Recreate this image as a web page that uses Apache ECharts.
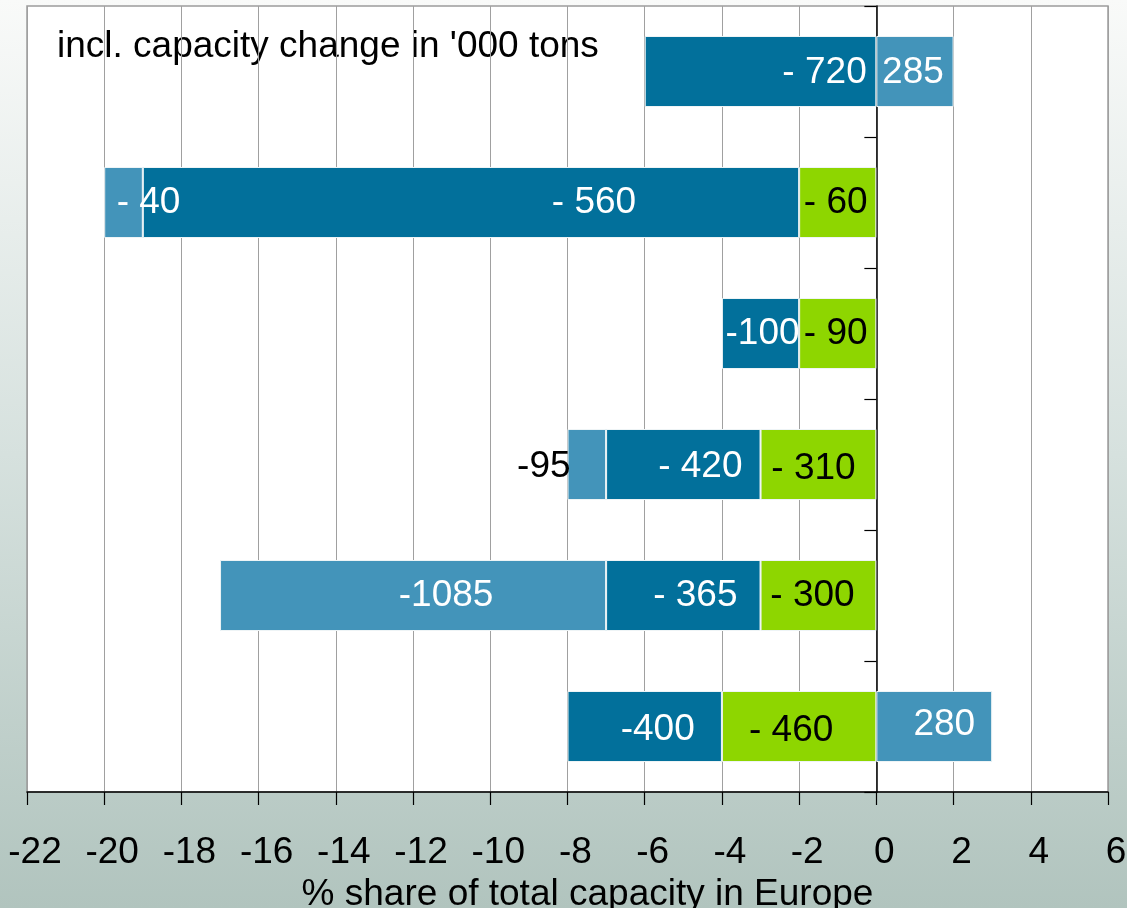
<!DOCTYPE html>
<html>
<head>
<meta charset="utf-8">
<script src="https://cdn.jsdelivr.net/npm/echarts@6/dist/echarts.min.js"></script>
<style>
  html, body { margin: 0; padding: 0; }
  #chart { width: 1127px; height: 908px; }
</style>
</head>
<body>
<div id="chart"></div>
<script>
// Rows, top to bottom
const rows = ['r1', 'r2', 'r3', 'r4', 'r5', 'r6'];

// % share of total capacity in Europe, per segment
const greenShare = ['-', -2, -2, -3, -3, -4];
const darkShare  = [-6, -17, -2, -4, -4, -4];
const lightShare = [2, -1, '-', -1, -10, 3];

// capacity change in '000 tons, written on each segment
const greenLabels = ['', '- 60', '- 90', '- 310', '- 300', '- 460'];
const darkLabels  = ['- 720', '- 560', '-100', '- 420', '- 365', '-400'];
const lightLabels = ['285', '- 40', '', '-95', '-1085', '280'];

// x axis ticks
const xMin = -22, xMax = 6, xStep = 2;

const titleText = "incl. capacity change in '000 tons";
const xName = '% share of total capacity in Europe';

// label nudges inside each segment [dx, dy]
const greenNudge = [[0, 0], [-2, 0], [-2, 0], [-5, 4], [-6, 0], [-8, 4]];
const darkNudge  = [[64, 1], [123, 0], [2, 0], [17, 2], [12, 0], [13, 3]];
const lightNudge = [[-2, 1], [25, 0], [0, 0], [-43, 2], [33, 0], [10, -2]];

const FONT = 'Liberation Sans, Arial, sans-serif';
const COLORS = { green: '#8ed600', dark: '#02709b', light: '#4394ba' };

function makeData(values, labels, nudges, textColors) {
  return values.map((v, i) => ({
    value: v,
    label: {
      show: labels[i] !== '',
      formatter: labels[i],
      position: 'inside',
      offset: nudges[i],
      color: textColors[i]
    }
  }));
}

function barSeries(name, values, labels, nudges, color, textColors) {
  return {
    name: name,
    type: 'bar',
    stack: 'total',
    barWidth: 71,
    itemStyle: { color: color, borderColor: '#eef4f6', borderWidth: 1 },
    label: { fontFamily: FONT, fontSize: 37 },
    data: makeData(values, labels, nudges, textColors)
  };
}

const chart = echarts.init(document.getElementById('chart'), null, { renderer: 'canvas' });

chart.setOption({
  animation: false,
  backgroundColor: {
    type: 'linear', x: 0, y: 0, x2: 0, y2: 1,
    colorStops: [
      { offset: 0, color: '#f9faf9' },
      { offset: 0.5, color: '#d6e1de' },
      { offset: 1, color: '#b1c4be' }
    ]
  },
  grid: {
    left: 27, right: 19, top: 6, bottom: 116,
    outerBoundsMode: 'none',
    containLabel: false,
    show: true, backgroundColor: '#ffffff',
    borderColor: '#9c9c9c', borderWidth: 1.5
  },
  graphic: [{
    type: 'text', left: 57, top: 28,
    style: { text: titleText, font: '37px ' + FONT, fill: '#000' }
  }],
  xAxis: {
    type: 'value',
    min: xMin, max: xMax, interval: xStep,
    name: xName,
    nameLocation: 'middle',
    nameGap: 78,
    nameTextStyle: {
      fontFamily: FONT, fontSize: 37, color: '#000',
      padding: [0, 0, 0, 40]
    },
    axisLine: { show: true, lineStyle: { color: '#000', width: 1.5 } },
    axisTick: { show: true, length: 13, lineStyle: { color: '#000', width: 1.2 } },
    axisLabel: {
      fontFamily: FONT, fontSize: 37, color: '#000', margin: 42,
      padding: [0, 0, 0, 16]
    },
    splitLine: { show: true, lineStyle: { color: '#a0a0a0', width: 1 } }
  },
  yAxis: {
    type: 'category',
    data: rows,
    inverse: true,
    axisLine: { show: true, onZero: true, lineStyle: { color: '#000', width: 1.5 } },
    axisTick: { show: true, length: 12, lineStyle: { color: '#000', width: 1.2 } },
    axisLabel: { show: false },
    splitLine: { show: false }
  },
  series: [
    barSeries('green', greenShare, greenLabels, greenNudge, COLORS.green, rows.map(() => '#000')),
    barSeries('dark', darkShare, darkLabels, darkNudge, COLORS.dark, rows.map(() => '#fff')),
    barSeries('light', lightShare, lightLabels, lightNudge, COLORS.light,
      lightLabels.map(t => t === '-95' ? '#000' : '#fff'))
  ]
});
</script>
</body>
</html>
